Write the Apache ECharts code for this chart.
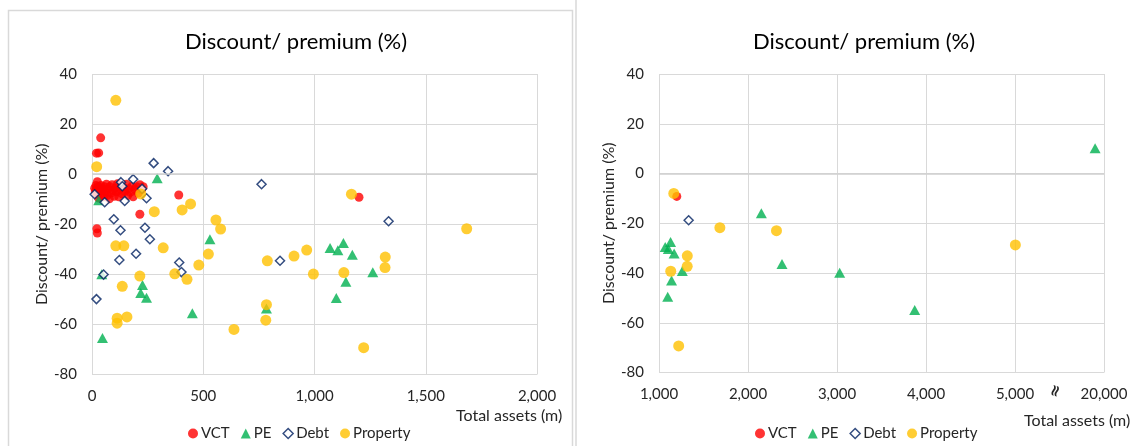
<!DOCTYPE html>
<html>
<head>
<meta charset="utf-8">
<script src="https://cdn.jsdelivr.net/npm/echarts@6/dist/echarts.min.js"></script>
<style>
  html, body { margin: 0; padding: 0; background: #fff; }
  #chart { width: 1131px; height: 446px; }
</style>
</head>
<body>
<div id="chart"></div>
<script>
// 数据：[总资产(m), 折价/溢价(%)]
var vctData = [
  [20, 8.4], [30, 8.5], [39, 14.5], [22, -21.8], [24, -23.5], [215, -16], [390, -8.3], [1200, -9.2],
  [12, -5.6], [15, -7], [18, -4.5], [20, -6], [24, -3], [25, -8], [28, -5], [30, -9.5],
  [35, -6.5], [40, -4.5], [42, -8], [48, -6], [52, -9], [55, -5], [60, -7], [65, -4],
  [68, -8.5], [72, -6], [78, -9.8], [80, -5], [85, -7.5], [90, -4.2], [95, -6.5], [100, -8.8],
  [105, -5.5], [110, -7], [115, -3.8], [120, -9], [125, -6], [130, -4.5], [135, -7.8], [140, -5.2],
  [148, -6.8], [155, -4], [160, -8.5], [165, -5.8], [172, -7.2], [180, -4.8], [185, -9], [192, -6],
  [200, -5], [208, -7.5], [215, -4.2], [222, -6.2], [230, -5]
];
var peData = [
  [30, -10.4], [293, -1.6], [44, -40], [47, -65.4], [219, -47.5], [227, -44.3], [245, -49.4],
  [451, -55.5], [530, -26], [784, -53.6], [1070, -29.5], [1105, -30.4], [1130, -27.5],
  [1170, -32.2], [1141, -43], [1098, -49.5], [1262, -39.2], [2150, -16], [2382, -36.4],
  [3030, -39.9], [3873, -54.9], [18500, 10.2]
];
var debtData = [
  [12, -8], [57, -11.2], [130, -3.2], [136, -4.8], [147, -10.7], [185, -2], [225, -5.8],
  [245, -9.6], [277, 4.4], [342, 1.2], [98, -18], [128, -22.4], [238, -21.4], [260, -26],
  [198, -31.8], [123, -34.3], [52, -40.1], [392, -35.3], [402, -39.1], [20, -49.9],
  [762, -4], [845, -34.6], [1333, -18.8]
];
var propertyData = [
  [107, 29.5], [21, 3], [219, -7.9], [280, -15], [405, -14.3], [443, -11.9], [557, -18.3],
  [578, -21.9], [320, -29.4], [107, -28.6], [143, -28.6], [523, -31.9], [788, -34.6],
  [908, -32.7], [965, -30.3], [1166, -8], [1684, -21.8], [1318, -33.1], [1317, -37.3],
  [995, -39.9], [1132, -39.3], [784, -52.1], [781, -58.3], [1221, -69.3], [215, -40.7],
  [372, -39.8], [427, -42], [480, -36.3], [136, -44.8], [113, -57.5], [113, -59.5],
  [157, -57], [638, -62], [2320, -23], [5061, -28.7]
];
var seriesNames = ['VCT', 'PE', 'Debt', 'Property'];
var yTicks = { min: -80, max: 40, interval: 20 };
var leftXTicks = { min: 0, max: 2000, interval: 500 };
var rightXTicks = { min: 1000, max: 6000, interval: 1000 }; // 6000 位置显示 20,000（断轴）

// 断轴：5000 以上压缩，20000 落在 6000 的位置
function brk(p) {
  var x = p[0];
  return [x <= 5000 ? x : 5000 + (x - 5000) / 15, p[1]];
}

var font = 'Lato';
var txt = '#262626';
var grid = '#d9d9d9';

function fmt(v) {
  return v.toLocaleString('en-US');
}

var styles = {
  VCT: { symbol: 'circle', symbolSize: 9, itemStyle: { color: '#FF0000' } },
  PE: { symbol: 'triangle', symbolSize: [11, 10], itemStyle: { color: '#00B050' } },
  Debt: { symbol: 'diamond', symbolSize: 9, itemStyle: { color: '#ffffff', borderColor: '#002060', borderWidth: 1.5 } },
  Property: { symbol: 'circle', symbolSize: 11, itemStyle: { color: '#FFC000' } }
};
var allData = { VCT: vctData, PE: peData, Debt: debtData, Property: propertyData };

var series = [];
[0, 1].forEach(function (g) {
  seriesNames.forEach(function (name, i) {
    var s = {
      name: name,
      type: 'scatter',
      xAxisIndex: g,
      yAxisIndex: g,
      symbol: styles[name].symbol,
      symbolSize: styles[name].symbolSize,
      itemStyle: styles[name].itemStyle,
      clip: true,
      data: allData[name].map(brk)
    };
    if (i === 0) {
      s.markLine = {
        silent: true,
        symbol: 'none',
        label: { show: false },
        lineStyle: { color: '#cfcfcf', width: 1.5, type: 'solid' },
        data: [{ yAxis: 0 }]
      };
    }
    series.push(s);
  });
});

function legendData() {
  return seriesNames.map(function (n) {
    return { name: n, icon: styles[n].symbol, itemStyle: styles[n].itemStyle };
  });
}

function yAxis(g) {
  return {
    type: 'value',
    gridIndex: g,
    min: yTicks.min, max: yTicks.max, interval: yTicks.interval,
    name: 'Discount/ premium (%)',
    nameLocation: 'middle',
    nameGap: 41,
    nameTextStyle: { fontFamily: font, fontSize: 16, color: txt },
    axisLine: { show: false },
    axisTick: { show: false },
    axisLabel: { fontFamily: font, fontSize: 15, color: txt, margin: 15 },
    splitLine: { lineStyle: { color: grid, width: 1 } }
  };
}

function xAxis(g, t, f) {
  return {
    type: 'value',
    gridIndex: g,
    min: t.min, max: t.max, interval: t.interval,
    axisLine: { show: false },
    axisTick: { show: false },
    axisLabel: { fontFamily: font, fontSize: 15, color: txt, margin: 14, formatter: f },
    splitLine: { lineStyle: { color: grid, width: 1 } }
  };
}

var myChart = echarts.init(document.getElementById('chart'));
var option = {
  animation: false,
  backgroundColor: '#fff',
  title: [
    { text: 'Discount/ premium (%)', left: 291, top: 26, textAlign: 'center',
      textStyle: { fontFamily: font, fontSize: 22, fontWeight: 'normal', color: '#000' } },
    { text: 'Discount/ premium (%)', left: 859, top: 26, textAlign: 'center',
      textStyle: { fontFamily: font, fontSize: 22, fontWeight: 'normal', color: '#000' } }
  ],
  legend: [
    { left: 183, top: 421, itemWidth: 10, itemHeight: 10, itemGap: 11, data: legendData(),
      textStyle: { fontFamily: font, fontSize: 15, color: txt, padding: [0, 0, 0, -2] } },
    { left: 750, top: 421, itemWidth: 10, itemHeight: 10, itemGap: 11, data: legendData(),
      textStyle: { fontFamily: font, fontSize: 15, color: txt, padding: [0, 0, 0, -2] } }
  ],
  grid: [
    { left: 92, top: 74, width: 445, height: 300.5 },
    { left: 659, top: 74, width: 445, height: 298.5 }
  ],
  xAxis: [
    xAxis(0, leftXTicks, function (v) { return fmt(v); }),
    xAxis(1, rightXTicks, function (v) { return v === 6000 ? '20,000' : fmt(v); })
  ],
  yAxis: [yAxis(0), yAxis(1)],
  graphic: [
    { type: 'rect', silent: true, shape: { x: 8.5, y: 10.5, width: 564, height: 445 },
      style: { fill: 'none', stroke: '#d9d9d9', lineWidth: 1.5 } },
    { type: 'rect', silent: true, shape: { x: 576, y: -5, width: 570, height: 460 },
      style: { fill: 'none', stroke: '#d9d9d9', lineWidth: 1.5 } },
    { type: 'text', left: 456, top: 408,
      style: { text: 'Total assets (m)', font: '16px Lato', fill: txt } },
    { type: 'text', left: 1024, top: 413,
      style: { text: 'Total assets (m)', font: '16px Lato', fill: txt } },
    { type: 'text', x: 1056, y: 391, rotation: Math.PI / 2 - 0.3, originX: 0, originY: 0,
      style: { text: '≈', font: 'bold 16px "DejaVu Sans"', fill: txt, align: 'center', verticalAlign: 'middle' } }
  ],
  series: series
};
myChart.setOption(option);
</script>
</body>
</html>
